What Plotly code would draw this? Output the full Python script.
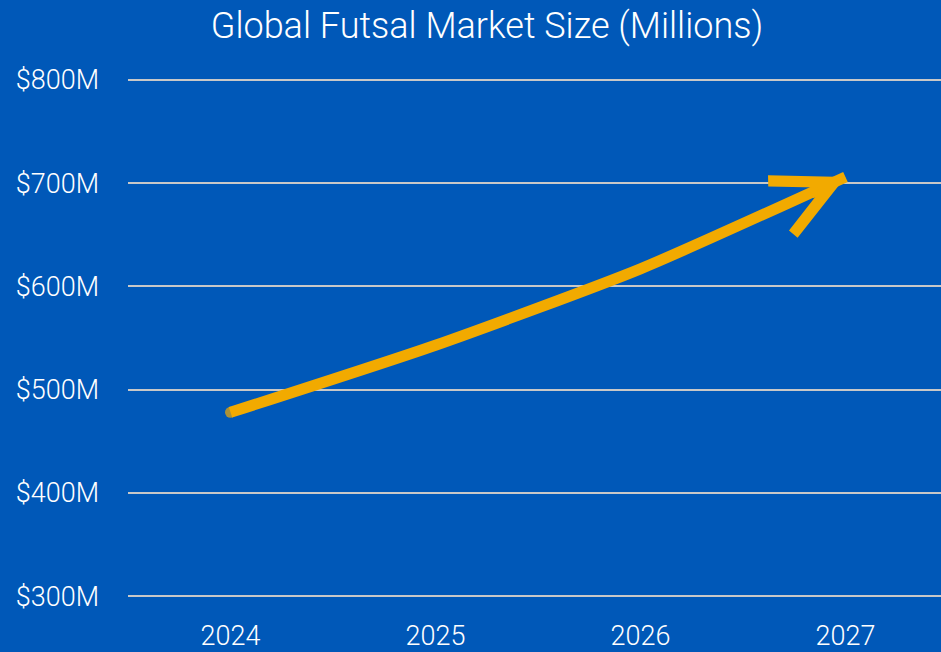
import plotly.graph_objects as go

years = [2024, 2025, 2026, 2027]
market_size = [478, 543, 617, 706]
y_ticks = [300, 400, 500, 600, 700, 800]
y_tick_labels = ["$300M", "$400M", "$500M", "$600M", "$700M", "$800M"]

BG = "#0058B8"
LINE = "#F2AA00"
FONT = "Roboto"

fig = go.Figure()
fig.add_trace(go.Scatter(
    x=years, y=market_size, mode="lines+markers",
    line=dict(color=LINE, width=11, shape="spline", smoothing=0.6),
    marker=dict(size=[11, 0, 0, 0], color=LINE, line=dict(width=0)),
    hoverinfo="skip", showlegend=False,
))

fig.add_annotation(
    x=years[-1], y=market_size[-1], xref="x", yref="y",
    ax=-36, ay=17, text="", showarrow=True,
    arrowhead=5, arrowwidth=11, arrowsize=1.05, arrowcolor=LINE, standoff=0,
)

fig.update_layout(
    width=941, height=652,
    paper_bgcolor=BG, plot_bgcolor=BG,
    margin=dict(l=128, r=0, t=60, b=32),
    title=dict(text="Global Futsal Market Size (Millions)", x=487 / 941, xanchor="center",
               y=1 - 25 / 652, yanchor="middle", yref="container",
               font=dict(family=FONT, size=36, color="white", weight=300)),
    font=dict(family=FONT, color="white"),
    xaxis=dict(range=[2023.5, 2027.466], tickvals=years, ticktext=[str(y) for y in years],
               showgrid=False, zeroline=False, showline=False,
               tickfont=dict(size=27, color="white", weight=300), ticks=""),
    yaxis=dict(range=[279.8, 819.2], tickvals=y_ticks, ticktext=y_tick_labels,
               showgrid=True, gridcolor="#C8C8C8", gridwidth=2, zeroline=False,
               showline=False, ticks="", ticklabelstandoff=28,
               tickfont=dict(size=27, color="white", weight=300)),
)

fig.write_html("out.html", config={"displayModeBar": False},
               post_script="document.body.style.margin='0';document.body.style.overflow='hidden';")
